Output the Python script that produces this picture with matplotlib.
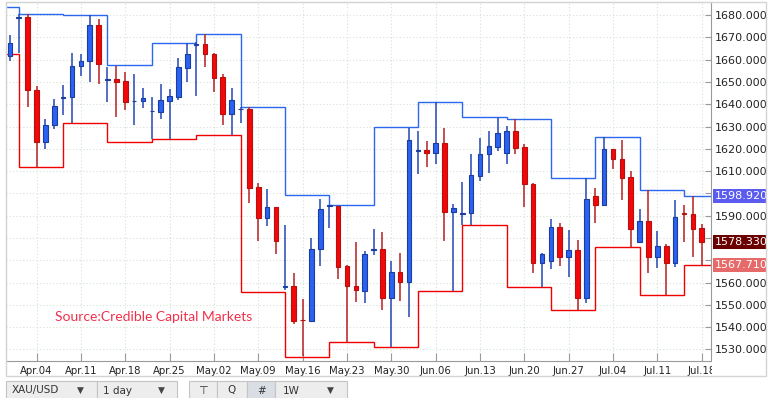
import matplotlib
matplotlib.use("Agg")
import matplotlib.pyplot as plt
import numpy as np
from matplotlib.patches import Rectangle

# daily XAU/USD candles (index = trading day)
opens = [1661.6, 1678.9, 1679.1, 1646.6, 1623.2, 1630.5, 1643.0, 1643.1, 1657.0, 1659.2,
         1675.4, 1651.0, 1651.3, 1650.4, 1641.3, 1641.3, 1636.8, 1636.6, 1641.6, 1643.4,
         1656.4, 1666.7, 1667.0, 1662.5, 1652.0, 1635.7, 1637.7, 1637.8, 1602.7, 1589.1,
         1593.7, 1558.2, 1558.4, 1543.2, 1542.8, 1574.9, 1594.5, 1594.3, 1567.4, 1558.4,
         1556.3, 1574.8, 1575.0, 1552.9, 1564.5, 1560.3, 1619.2, 1619.4, 1617.9, 1622.4,
         1591.8, 1590.9, 1591.0, 1607.9, 1617.5, 1620.9, 1618.2, 1628.0, 1620.8, 1604.2,
         1568.6, 1569.6, 1584.7, 1571.6, 1574.6, 1552.9, 1598.8, 1595.0, 1619.9, 1615.2,
         1607.2, 1578.3, 1587.6, 1571.3, 1576.5, 1568.6, 1591.2, 1590.6, 1584.3]
highs = [1671.0, 1680.7, 1680.4, 1648.1, 1633.3, 1642.3, 1648.6, 1663.0, 1662.5, 1680.0,
         1678.1, 1656.5, 1657.1, 1654.4, 1653.5, 1647.2, 1643.4, 1649.0, 1646.8, 1660.6,
         1667.3, 1668.0, 1671.3, 1663.1, 1653.5, 1647.2, 1638.6, 1638.6, 1604.8, 1601.9,
         1594.0, 1585.8, 1564.1, 1552.6, 1579.9, 1597.4, 1594.9, 1594.5, 1567.8, 1578.3,
         1574.1, 1584.0, 1582.8, 1569.6, 1573.1, 1629.4, 1628.0, 1623.5, 1640.8, 1629.4,
         1595.2, 1605.2, 1617.6, 1625.0, 1628.0, 1633.9, 1630.2, 1633.2, 1622.1, 1604.8,
         1573.1, 1588.5, 1586.5, 1583.5, 1579.0, 1606.7, 1602.2, 1625.1, 1620.0, 1623.9,
         1610.0, 1593.0, 1601.3, 1583.1, 1577.1, 1597.0, 1594.7, 1598.9, 1586.2]
lows = [1659.5, 1663.0, 1638.9, 1611.9, 1620.0, 1629.0, 1635.1, 1631.4, 1652.6, 1650.1,
        1649.3, 1641.1, 1634.4, 1637.4, 1630.6, 1638.4, 1624.2, 1633.5, 1624.2, 1641.9,
        1650.1, 1643.8, 1656.8, 1645.6, 1630.6, 1626.2, 1631.7, 1595.5, 1578.7, 1585.5,
        1572.8, 1556.5, 1541.4, 1527.0, 1542.5, 1567.5, 1584.6, 1561.4, 1533.3, 1551.4,
        1550.9, 1572.3, 1547.6, 1530.9, 1551.7, 1544.6, 1608.5, 1611.9, 1613.1, 1578.7,
        1556.2, 1585.6, 1585.6, 1605.5, 1609.3, 1619.1, 1613.0, 1617.5, 1594.0, 1564.4,
        1557.8, 1566.0, 1567.5, 1562.6, 1547.5, 1550.9, 1586.8, 1594.6, 1610.9, 1597.0,
        1576.0, 1577.9, 1564.4, 1566.6, 1554.2, 1567.1, 1578.0, 1571.6, 1567.4]
closes = [1667.7, 1679.1, 1646.6, 1623.2, 1630.5, 1639.0, 1643.2, 1657.0, 1659.2, 1675.4,
          1657.9, 1651.2, 1650.1, 1641.1, 1641.5, 1642.6, 1637.0, 1641.9, 1643.7, 1656.5,
          1662.5, 1666.9, 1662.4, 1651.9, 1635.7, 1641.9, 1637.9, 1602.5, 1589.1, 1593.7,
          1578.7, 1558.4, 1542.8, 1543.0, 1574.9, 1592.8, 1594.7, 1567.1, 1558.4, 1556.6,
          1572.6, 1575.0, 1552.9, 1564.5, 1560.3, 1623.8, 1619.4, 1617.9, 1622.4, 1591.8,
          1593.3, 1591.1, 1608.2, 1617.5, 1621.2, 1626.9, 1628.0, 1620.5, 1604.0, 1568.6,
          1572.6, 1584.7, 1571.6, 1574.6, 1552.9, 1597.3, 1595.0, 1619.9, 1615.2, 1607.0,
          1583.8, 1587.6, 1571.3, 1576.5, 1568.6, 1589.2, 1590.6, 1584.1, 1578.33]

# weekly high / low channel (1W), step starts at these day indices
week_starts = [-1, 1, 6, 11, 16, 21, 26, 31, 36, 41, 46, 51, 56, 61, 66, 71, 76]
week_high = [1683.7, 1680.7, 1679.9, 1657.4, 1667.7, 1671.3, 1638.6, 1599.1, 1594.6,
             1629.6, 1640.8, 1634.1, 1633.3, 1606.7, 1625.1, 1601.3, 1598.92]
week_low = [1662.5, 1611.9, 1631.4, 1622.9, 1624.2, 1626.2, 1555.6, 1526.4, 1533.3,
            1530.9, 1556.2, 1585.6, 1557.8, 1547.5, 1576.0, 1554.2, 1567.71]

date_ticks = [3, 8, 13, 18, 23, 28, 33, 38, 43, 48, 53, 58, 63, 68, 73, 78]
date_labels = ["Apr.04", "Apr.11", "Apr.18", "Apr.25", "May.02", "May.09", "May.16",
               "May.23", "May.30", "Jun.06", "Jun.13", "Jun.20", "Jun.27", "Jul.04",
               "Jul.11", "Jul.18"]
price_ticks = list(range(1530, 1690, 10))
hidden_ticks = [1570, 1580]  # covered by the value boxes

marks = [(1598.92, "#5b5bef"), (1578.33, "#6b0000"), (1567.71, "#e66a6a")]

W, H = 772, 398
fig = plt.figure(figsize=(W / 100, H / 100), dpi=100)


def fx(px):
    return px / W


def fy(py):
    return 1 - py / H


ax = fig.add_axes([fx(5.5), fy(360.5), (711 - 5.5) / W, (360.5 - 1.5) / H])
ax.set_xlim(-0.5, 79.05)
ax.set_ylim(1525.0, 1686.1)

# grid
for p in price_ticks:
    ax.axhline(p, color="#d3e3d3", lw=0.8, ls=(0, (1, 2)), zorder=0)
for t in date_ticks:
    ax.axvline(t, color="#d3e3d3", lw=0.8, ls=(0, (1, 2)), zorder=0)

# channel
edges = week_starts + [80]
ax.stairs(week_high, edges, baseline=None, color="#2a68f0", lw=1.0, zorder=2)
ax.stairs(week_low, edges, baseline=None, color="#f20000", lw=1.0, zorder=2)

# candles
o = np.array(opens)
c = np.array(closes)
x = np.arange(len(o))
up = c >= o
ax.vlines(x, lows, highs, colors=np.where(up, "#2446b4", "#b42020"), lw=1.1, zorder=3)
body = np.abs(c - o)
bh = np.maximum(body, 0.3)
bottom = np.minimum(o, c) - (bh - body) / 2
ax.bar(x, bh, bottom=bottom, width=0.52,
       color=np.where(up, "#2a62f2", "#f20808"),
       edgecolor=np.where(up, "#1c3d9e", "#b81010"), lw=0.8, zorder=4)

# axes styling
for s in ["left", "top"]:
    ax.spines[s].set_color("#d4d4d4")
for s in ["right", "bottom"]:
    ax.spines[s].set_color("#9a9a9a")
ax.yaxis.tick_right()
ax.set_yticks(price_ticks)
ax.set_yticklabels(["" if p in hidden_ticks else f"{p:.3f}" for p in price_ticks])
ax.set_xticks(date_ticks)
ax.set_xticklabels(date_labels)
ax.tick_params(axis="y", direction="in", length=4, color="#9a9a9a", pad=3,
               labelsize=8, labelcolor="#222222")
ax.tick_params(axis="x", direction="in", length=6, color="#9a9a9a", pad=4,
               labelsize=7.3, labelcolor="#222222")

# last-value boxes on the price axis
tr = ax.get_yaxis_transform()
for val, col in marks:
    ax.add_patch(Rectangle((1.003, val - 3.1), 0.075, 6.2, transform=tr,
                           facecolor=col, edgecolor="none", clip_on=False, zorder=6))
    ax.text(1.0055, val, f"{val:.3f}", transform=tr, color="white", fontsize=8,
            va="center", ha="left", clip_on=False, zorder=7)

ax.text(5.05, 1544.6, "Source:Credible Capital Markets", color="#f0304a",
        fontsize=10, family="Lato", va="center", ha="left", zorder=5)

# cover label overflow at the right edge and outer frame
fig.add_artist(Rectangle((fx(712), fy(376)), fx(60), fy(361) - fy(376),
                         transform=fig.transFigure, facecolor="white",
                         edgecolor="none", zorder=8))
fig.add_artist(Rectangle((fx(765.5), 0), fx(10), 1, transform=fig.transFigure,
                         facecolor="white", edgecolor="none", zorder=8))
fig.add_artist(Rectangle((fx(5.5), fy(376)), fx(760), fy(1.5) - fy(376),
                         transform=fig.transFigure, facecolor="none",
                         edgecolor="#d4d4d4", lw=1.0, zorder=9))

# toolbar
def box(x0, x1, face):
    fig.add_artist(Rectangle((fx(x0), fy(399)), fx(x1 - x0), fy(381) - fy(399),
                             transform=fig.transFigure, facecolor=face,
                             edgecolor="#c4c4c4", lw=0.8, zorder=9))


box(6, 97, "#ededed")
box(97, 177, "#ededed")
box(189, 217, "#ededed")
box(217, 247, "#ededed")
box(247, 275, "#d9dde4")
box(275, 347, "#ededed")

ty = fy(390.5)
tool_texts = [(12, "XAU/USD", "left"), (103, "1 day", "left"), (232, "Q", "center"),
              (262, "#", "center"), (283, "1W", "left")]
for px, s, ha in tool_texts:
    fig.text(fx(px), ty, s, fontsize=7.5, color="#333333", ha=ha, va="center", zorder=10)
fig.text(fx(203), ty, "\u22a4", fontsize=8, color="#333333", ha="center", va="center",
         zorder=10)
for px in [80, 161, 330]:
    fig.text(fx(px), ty, "\u25bc", fontsize=6.5, color="#444444", ha="center",
             va="center", zorder=10)

fig.savefig("out.png", dpi=100, facecolor="white")
